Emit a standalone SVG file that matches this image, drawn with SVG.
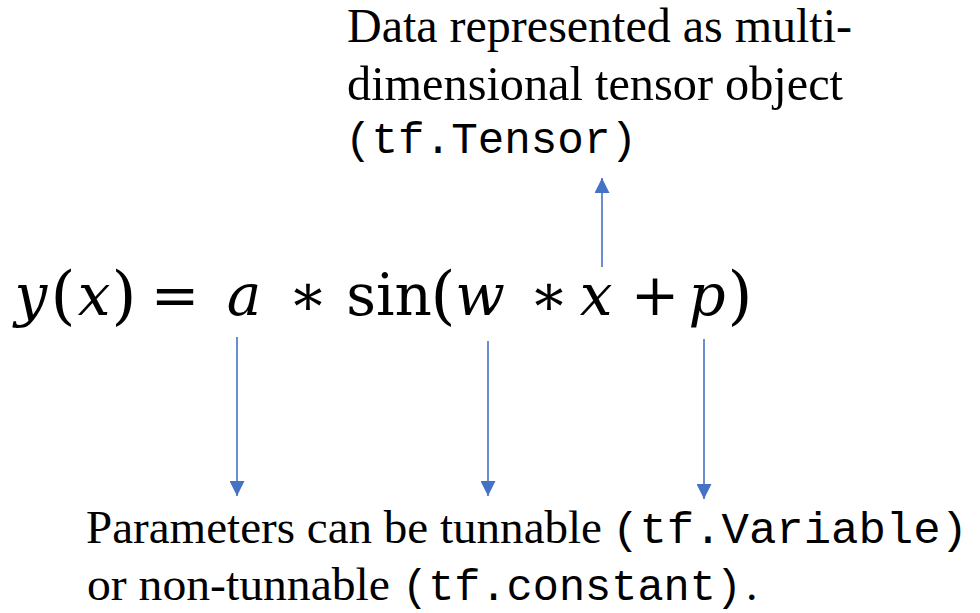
<svg xmlns="http://www.w3.org/2000/svg" width="980" height="613" viewBox="0 0 980 613">
  <style>
    .serif { font-family: "Liberation Serif", "Times New Roman", serif; fill: #000; }
    .mono { font-family: "Liberation Mono", "Courier New", monospace; fill: #000; }
    .eq { font-family: "DejaVu Serif", "Liberation Serif", serif; font-size: 58px; fill: #000; text-anchor: middle; }
    .par { font-size: 64px; }
    .it { font-style: italic; }
    .conn { stroke: #4472C4; stroke-width: 1.6; fill: none; marker-end: url(#ah); }
  </style>
  <defs>
    <marker id="ah" viewBox="0 0 15 15" refX="15" refY="7.5" markerWidth="15" markerHeight="15" markerUnits="userSpaceOnUse" orient="auto">
      <path d="M0,0 L15,7.5 L0,15 z" fill="#4472C4"/>
    </marker>
  </defs>
  <rect width="980" height="613" fill="#fff"/>

  <g id="equation">
    <text class="eq it" x="31" y="315">y</text>
    <text class="eq par" x="63" y="317">(</text>
    <text class="eq it" x="94" y="315">x</text>
    <text class="eq par" x="124" y="317">)</text>
    <text class="eq" x="175" y="315">=</text>
    <text class="eq it" x="244" y="315">a</text>
    <text class="eq" x="308" y="315">∗</text>
    <text class="eq" x="389" y="315">sin</text>
    <text class="eq par" x="443" y="317">(</text>
    <text class="eq it" x="480" y="315">w</text>
    <text class="eq" x="549" y="315">∗</text>
    <text class="eq it" x="596" y="315">x</text>
    <text class="eq" x="655" y="315">+</text>
    <text class="eq it" x="707" y="315">p</text>
    <text class="eq par" x="740" y="317">)</text>
  </g>

  <g id="data-label">
    <text class="serif" x="347" y="42" font-size="48" textLength="505" lengthAdjust="spacingAndGlyphs">Data represented as multi-</text>
    <text class="serif" x="347" y="100" font-size="48" textLength="496" lengthAdjust="spacingAndGlyphs">dimensional tensor object</text>
    <text class="mono" x="345" y="153" font-size="44" textLength="292" lengthAdjust="spacingAndGlyphs">(tf.Tensor)</text>
  </g>

  <g id="param-label">
    <text class="serif" x="86" y="543" font-size="46" textLength="516" lengthAdjust="spacingAndGlyphs">Parameters can be tunnable</text>
    <text class="mono" x="612" y="543" font-size="44" textLength="356" lengthAdjust="spacingAndGlyphs">(tf.Variable)</text>
    <text class="serif" x="87" y="600" font-size="46" textLength="303" lengthAdjust="spacingAndGlyphs">or non-tunnable</text>
    <text class="mono" x="402" y="600" font-size="44" textLength="340" lengthAdjust="spacingAndGlyphs">(tf.constant)</text>
    <text class="serif" x="746" y="600" font-size="46">.</text>
  </g>

  <g id="connectors">
    <line class="conn" x1="237" y1="337" x2="237" y2="496"/>
    <line class="conn" x1="488" y1="341" x2="488" y2="496"/>
    <line class="conn" x1="704" y1="339" x2="704" y2="499"/>
    <line class="conn" x1="602" y1="267" x2="602" y2="178"/>
  </g>
</svg>
